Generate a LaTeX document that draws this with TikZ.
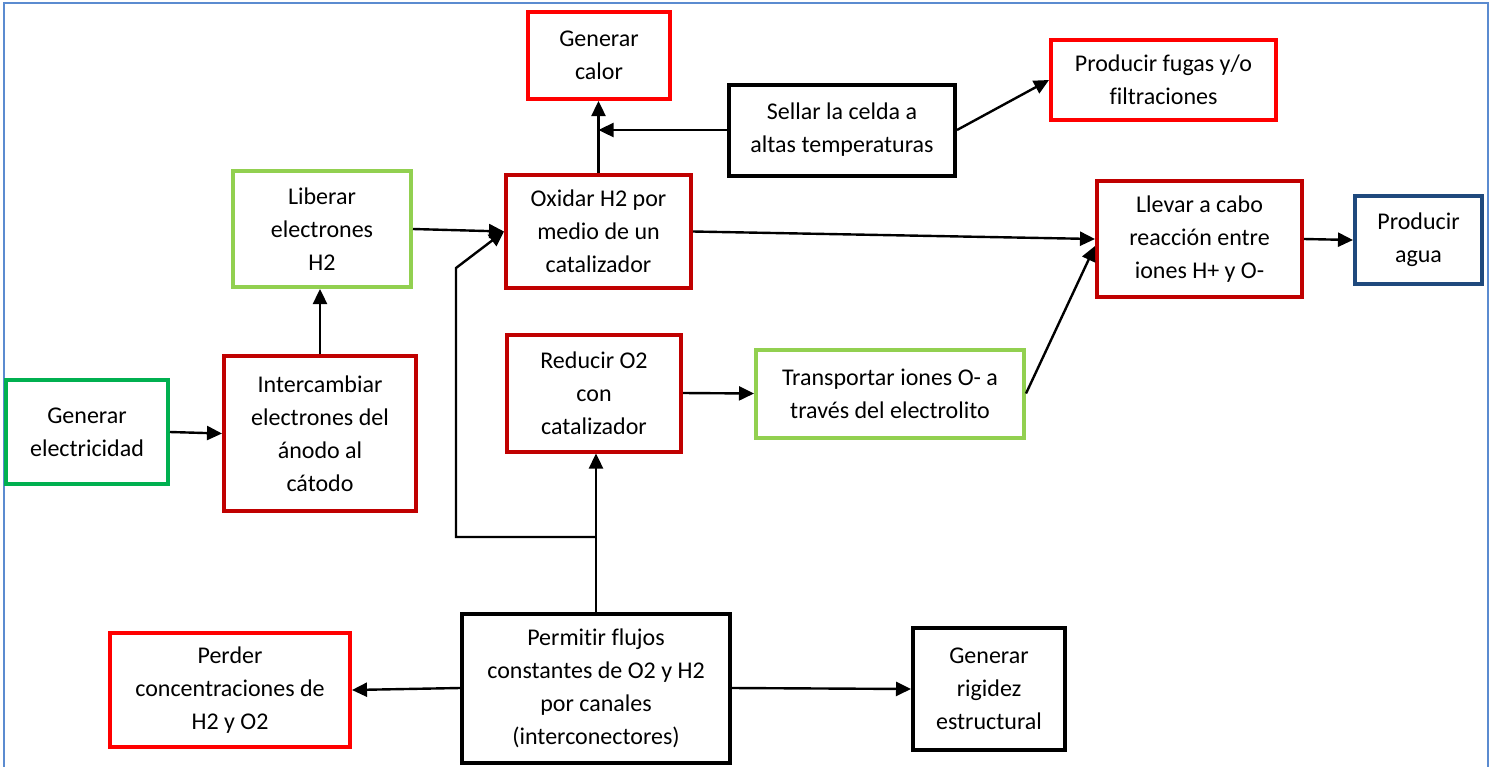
\documentclass[tikz,border=0pt]{standalone}
\usepackage{fontspec}
\setmainfont{Carlito}[Ligatures=NoCommon]
\usepackage{xcolor}
\usepackage{tikz}
\usetikzlibrary{arrows.meta}

\definecolor{rojo}{HTML}{FF0000}
\definecolor{rojoosc}{HTML}{C00000}
\definecolor{verdecl}{HTML}{92D050}
\definecolor{verde}{HTML}{00B050}
\definecolor{azulosc}{HTML}{1F497D}
\definecolor{marco}{HTML}{5B8BD0}

\tikzset{
    caja/.style={draw, line width=2pt, fill=white, align=center,
        inner sep=2pt,
        font=\fontsize{12}{16.5}\selectfont},
    flecha/.style={line width=1.2pt, -{Triangle[length=7.5pt,width=7pt]}},
    linea/.style={line width=1.2pt}
}

\begin{document}
\begin{tikzpicture}[x=0.5pt, y=-0.5pt]

    \useasboundingbox (0,0) rectangle (1489,766);

    % marco de la figura
    \draw[marco, line width=1pt] (4,770) -- (4,3) -- (1488,3) -- (1488,770);

    % fila superior
    \node[caja, draw=rojo,
        minimum width=71pt,
        minimum height=43.5pt]
        (calor) at (599,55.5) {Generar\\calor};

    \node[caja, draw=black,
        minimum width=113pt,
        minimum height=45.5pt]
        (sellar) at (842,130) {Sellar la celda a\\altas temperaturas};

    \node[caja, draw=rojo,
        minimum width=112.5pt,
        minimum height=40pt]
        (fugas) at (1163.5,80) {Producir fugas y/o\\filtraciones};

    % fila media
    \node[caja, draw=verdecl,
        minimum width=89pt,
        minimum height=58pt]
        (liberar) at (322,229) {Liberar\\electrones\\H2};

    \node[caja, draw=rojoosc,
        minimum width=92.5pt,
        minimum height=56.5pt]
        (oxidar) at (598.5,231.5) {Oxidar H2 por\\medio de un\\catalizador};

    \node[caja, draw=rojoosc,
        minimum width=102.5pt,
        minimum height=58pt]
        (reaccion) at (1199.5,239) {Llevar a cabo\\reacción entre\\iones H+ y O-};

    \node[caja, draw=azulosc,
        minimum width=63.5pt,
        minimum height=44pt]
        (agua) at (1418.5,240) {Producir\\agua};

    \node[caja, draw=verde,
        minimum width=81pt,
        minimum height=52pt]
        (electricidad) at (87,432) {Generar\\electricidad};

    \node[caja, draw=rojoosc,
        minimum width=96pt,
        minimum height=77.5pt]
        (intercambiar) at (320,433.5) {Intercambiar\\electrones del\\ánodo al\\cátodo};

    \node[caja, draw=rojoosc,
        minimum width=87pt,
        minimum height=58.5pt]
        (reducir) at (594,393) {Reducir O2\\con\\catalizador};

    \node[caja, draw=verdecl,
        minimum width=134pt,
        minimum height=44pt]
        (transportar) at (890,393.5) {Transportar iones O- a\\través del electrolito};

    % fila inferior
    \node[caja, draw=rojo,
        minimum width=120pt,
        minimum height=57pt]
        (perder) at (230,690) {Perder\\concentraciones de\\H2 y O2};

    \node[caja, draw=black,
        minimum width=134pt,
        minimum height=74.5pt]
        (permitir) at (596,688) {Permitir flujos\\constantes de O2 y H2\\por canales\\(interconectores)};

    \node[caja, draw=black,
        minimum width=76pt,
        minimum height=61pt]
        (rigidez) at (989,689) {Generar\\rigidez\\estructural};

    % puntos de la linea de canales
    \coordinate (canalarr) at (456,268);
    \coordinate (canalabj) at (456,537);
    \coordinate (canalder) at (permitir.north |- canalabj);
    \coordinate (cruce) at (oxidar.north |- sellar.west);

    % conexiones
    \draw[flecha] (electricidad.east) -- (intercambiar.west);
    \draw[flecha] (intercambiar.north) -- (intercambiar.north |- liberar.south);
    \draw[flecha] (liberar.east) -- (oxidar.west);
    \draw[flecha] (canalder) -- (canalabj) -- (canalarr) -- (oxidar.west);
    \draw[flecha] (permitir.north) -- (permitir.north |- reducir.south);
    \draw[flecha] (oxidar.north) -- (oxidar.north |- calor.south);
    \draw[flecha] (sellar.west) -- (cruce);
    \draw[flecha] (sellar.east) -- (fugas.west);
    \draw[flecha] (oxidar.east) -- (reaccion.west);
    \draw[flecha] (transportar.east) -- ([yshift=-3.5pt]reaccion.west);
    \draw[flecha] (reducir.east) -- (transportar.west);
    \draw[flecha] (reaccion.east) -- (agua.west);
    \draw[flecha] (permitir.west) -- (perder.east);
    \draw[flecha] (permitir.east) -- (rigidez.west);

\end{tikzpicture}
\end{document}
